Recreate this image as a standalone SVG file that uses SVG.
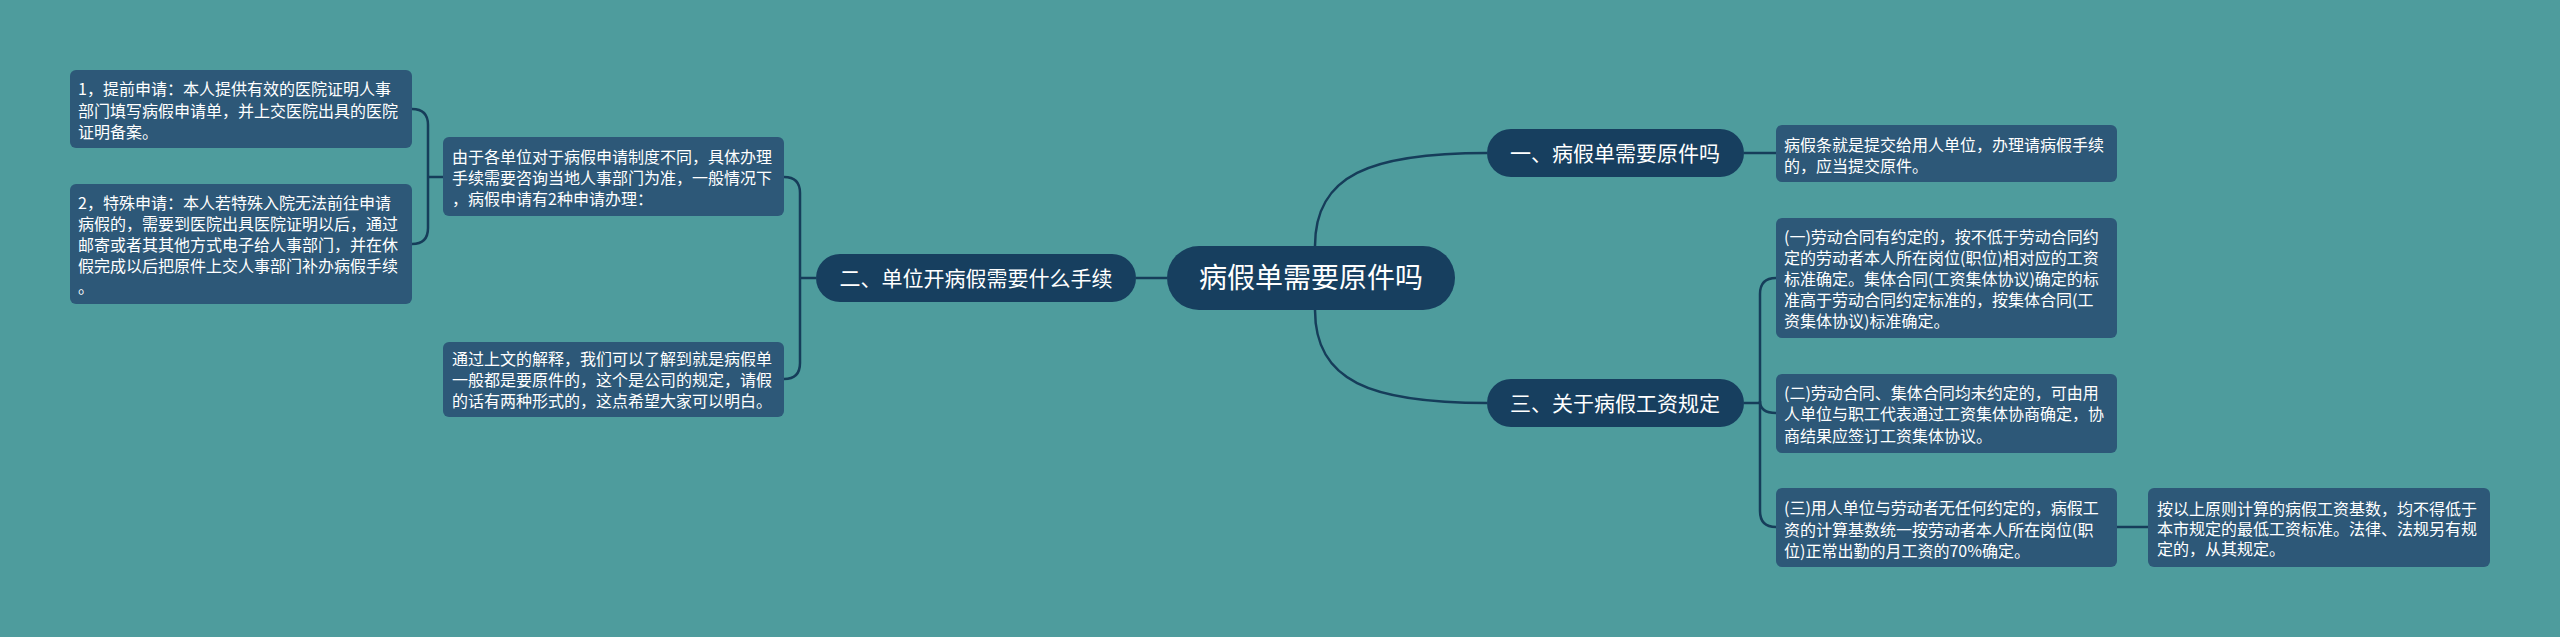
<svg xmlns="http://www.w3.org/2000/svg" width="2560" height="637" viewBox="0 0 2560 637">
<style>
.bg{fill:#4e9c9d}
.main{fill:#173f5f}
.leaf{fill:#2d5878}
.t{font-family:"Noto Sans CJK SC","Noto Sans",sans-serif;fill:#ffffff}
.big{font-size:28px}
.mid{font-size:21px}
.sm{font-size:16px}
.c{fill:none;stroke:#163d5a;stroke-width:2.5}
</style>
<rect class="bg" x="0" y="0" width="2560" height="637"/>
<g id="connectors">
<path class="c" d="M1315,246 C1315,175 1370,153 1487,153"/>
<path class="c" d="M1315,310 C1315,381 1370,403 1487,403"/>
<path class="c" d="M1136,278 H1167"/>
<path class="c" d="M1744,153 H1776"/>
<path class="c" d="M1744,403 H1760"/>
<path class="c" d="M1760,403 V294 Q1760,278 1776,278"/>
<path class="c" d="M1760,403 V401 Q1760,413 1776,413"/>
<path class="c" d="M1760,403 V511 Q1760,527 1776,527"/>
<path class="c" d="M2117,527 H2148"/>
<path class="c" d="M816,278 H800"/>
<path class="c" d="M800,278 V193 Q800,177 784,177"/>
<path class="c" d="M800,278 V363 Q800,379 784,379"/>
<path class="c" d="M443,177 H428"/>
<path class="c" d="M428,177 V125 Q428,109 412,109"/>
<path class="c" d="M428,177 V228 Q428,244 412,244"/>
</g>
<g id="root">
<rect class="main" x="1167" y="246" width="288" height="64" rx="32"/>
<text class="t big" x="1311" y="288" text-anchor="middle">病假单需要原件吗</text>
</g>
<g id="n1">
<rect class="main" x="1487" y="129" width="257" height="48" rx="24"/>
<text class="t mid" x="1615" y="160.5" text-anchor="middle">一、病假单需要原件吗</text>
</g>
<g id="n2">
<rect class="main" x="816" y="254" width="320" height="48" rx="24"/>
<text class="t mid" x="976" y="285.5" text-anchor="middle">二、单位开病假需要什么手续</text>
</g>
<g id="n3">
<rect class="main" x="1487" y="379" width="257" height="48" rx="24"/>
<text class="t mid" x="1615" y="410.5" text-anchor="middle">三、关于病假工资规定</text>
</g>
<g id="l1">
<rect class="leaf" x="70" y="70" width="342" height="78" rx="6"/>
<text class="t sm" x="78"><tspan x="78" y="95">1，提前申请：本人提供有效的医院证明人事</tspan><tspan x="78" y="116.5">部门填写病假申请单，并上交医院出具的医院</tspan><tspan x="78" y="138">证明备案。</tspan></text>
</g>
<g id="l2">
<rect class="leaf" x="70" y="184" width="342" height="120" rx="6"/>
<text class="t sm" x="78"><tspan x="78" y="209">2，特殊申请：本人若特殊入院无法前往申请</tspan><tspan x="78" y="230">病假的，需要到医院出具医院证明以后，通过</tspan><tspan x="78" y="251">邮寄或者其其他方式电子给人事部门，并在休</tspan><tspan x="78" y="272">假完成以后把原件上交人事部门补办病假手续</tspan><tspan x="78" y="293">。</tspan></text>
</g>
<g id="l3">
<rect class="leaf" x="443" y="137" width="341" height="79" rx="6"/>
<text class="t sm" x="452"><tspan x="452" y="163">由于各单位对于病假申请制度不同，具体办理</tspan><tspan x="452" y="184">手续需要咨询当地人事部门为准，一般情况下</tspan><tspan x="452" y="205">，病假申请有2种申请办理：</tspan></text>
</g>
<g id="l4">
<rect class="leaf" x="443" y="342" width="341" height="75" rx="6"/>
<text class="t sm" x="452"><tspan x="452" y="365">通过上文的解释，我们可以了解到就是病假单</tspan><tspan x="452" y="386">一般都是要原件的，这个是公司的规定，请假</tspan><tspan x="452" y="407">的话有两种形式的，这点希望大家可以明白。</tspan></text>
</g>
<g id="r1">
<rect class="leaf" x="1776" y="125" width="341" height="57" rx="6"/>
<text class="t sm" x="1784"><tspan x="1784" y="151">病假条就是提交给用人单位，办理请病假手续</tspan><tspan x="1784" y="172">的，应当提交原件。</tspan></text>
</g>
<g id="r2">
<rect class="leaf" x="1776" y="218" width="341" height="120" rx="6"/>
<text class="t sm" x="1784"><tspan x="1784" y="243">(一)劳动合同有约定的，按不低于劳动合同约</tspan><tspan x="1784" y="264">定的劳动者本人所在岗位(职位)相对应的工资</tspan><tspan x="1784" y="285">标准确定。集体合同(工资集体协议)确定的标</tspan><tspan x="1784" y="306">准高于劳动合同约定标准的，按集体合同(工</tspan><tspan x="1784" y="327">资集体协议)标准确定。</tspan></text>
</g>
<g id="r3">
<rect class="leaf" x="1776" y="374" width="341" height="79" rx="6"/>
<text class="t sm" x="1784"><tspan x="1784" y="399">(二)劳动合同、集体合同均未约定的，可由用</tspan><tspan x="1784" y="420">人单位与职工代表通过工资集体协商确定，协</tspan><tspan x="1784" y="442">商结果应签订工资集体协议。</tspan></text>
</g>
<g id="r4">
<rect class="leaf" x="1776" y="488" width="341" height="79" rx="6"/>
<text class="t sm" x="1784"><tspan x="1784" y="514">(三)用人单位与劳动者无任何约定的，病假工</tspan><tspan x="1784" y="536">资的计算基数统一按劳动者本人所在岗位(职</tspan><tspan x="1784" y="557">位)正常出勤的月工资的70%确定。</tspan></text>
</g>
<g id="r5">
<rect class="leaf" x="2148" y="488" width="342" height="79" rx="6"/>
<text class="t sm" x="2157"><tspan x="2157" y="515">按以上原则计算的病假工资基数，均不得低于</tspan><tspan x="2157" y="535">本市规定的最低工资标准。法律、法规另有规</tspan><tspan x="2157" y="555">定的，从其规定。</tspan></text>
</g>
</svg>
